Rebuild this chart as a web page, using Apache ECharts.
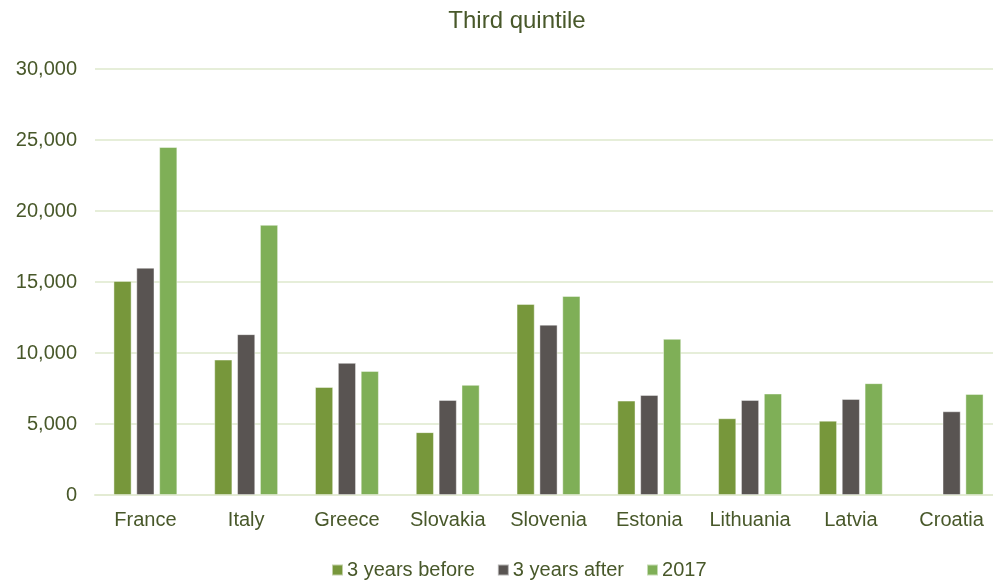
<!DOCTYPE html>
<html>
<head>
<meta charset="utf-8">
<script src="https://cdn.jsdelivr.net/npm/echarts@6/dist/echarts.min.js"></script>
<style>
  html, body { margin: 0; padding: 0; background: #ffffff; }
  #chart { width: 993px; height: 582px; }
</style>
</head>
<body>
<div id="chart"></div>
<script>
// Third-quintile figures per country
const countries = ['France', 'Italy', 'Greece', 'Slovakia', 'Slovenia', 'Estonia', 'Lithuania', 'Latvia', 'Croatia'];
const threeYearsBefore = [15070, 9530, 7600, 4420, 13450, 6640, 5400, 5230, null];
const threeYearsAfter  = [16000, 11320, 9300, 6690, 11990, 7040, 6690, 6760, 5890];
const year2017         = [24500, 19020, 8730, 7750, 14010, 10990, 7140, 7870, 7110];
const seriesNames = ['3 years before', '3 years after', '2017'];
const yTicks = [0, 5000, 10000, 15000, 20000, 25000, 30000];

const textColor = '#48582a';
const colors = ['#77973b', '#595452', '#7faf57'];
const font = 'Liberation Sans, Arial, sans-serif';

const chart = echarts.init(document.getElementById('chart'), null, { renderer: 'canvas' });

function barSeries(name, data, color) {
  return {
    name: name,
    type: 'bar',
    data: data,
    barWidth: 18,
    barGap: '27%',
    itemStyle: { color: color, borderColor: 'rgba(255,255,255,0.55)', borderWidth: 0.8 },
    emphasis: { disabled: true }
  };
}

chart.setOption({
  animation: false,
  title: {
    text: 'Third quintile',
    left: 512,
    top: 4,
    textAlign: 'center',
    textStyle: { color: textColor, fontFamily: font, fontSize: 24, fontWeight: 'normal' }
  },
  legend: {
    data: seriesNames,
    top: 555,
    left: 326,
    itemWidth: 11,
    itemHeight: 11,
    itemGap: 22,
    icon: 'rect',
    textStyle: { color: textColor, fontFamily: font, fontSize: 20, padding: [0, 0, 0, -1] }
  },
  grid: { left: 95, width: 907, top: 69, bottom: 87, containLabel: false, outerBoundsMode: 'none' },
  xAxis: {
    type: 'category',
    data: countries,
    axisLine: { show: true, lineStyle: { color: '#e3ebd3', width: 2 } },
    axisTick: { show: false },
    axisLabel: { color: textColor, fontFamily: font, fontSize: 20, margin: 15, interval: 0 }
  },
  yAxis: {
    type: 'value',
    min: yTicks[0],
    max: yTicks[yTicks.length - 1],
    interval: 5000,
    axisLine: { show: false },
    axisTick: { show: false },
    splitLine: { lineStyle: { color: '#e6eed9', width: 2 } },
    axisLabel: {
      color: textColor,
      fontFamily: font,
      fontSize: 20,
      margin: 18,
      formatter: v => v.toLocaleString('en-US')
    }
  },
  series: [
    barSeries(seriesNames[0], threeYearsBefore, colors[0]),
    barSeries(seriesNames[1], threeYearsAfter, colors[1]),
    barSeries(seriesNames[2], year2017, colors[2])
  ]
});
</script>
</body>
</html>
